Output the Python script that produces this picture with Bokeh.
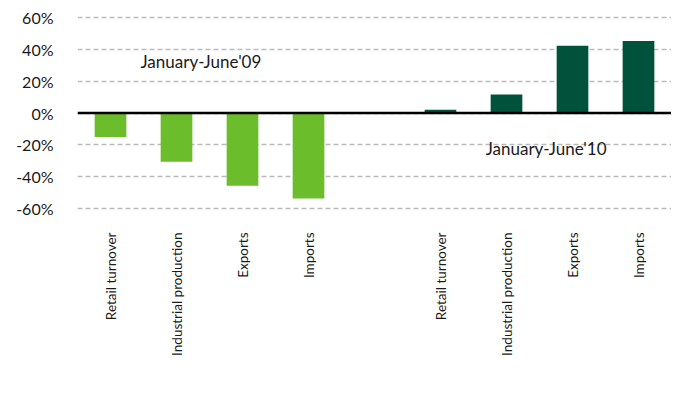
import math
from bokeh.plotting import figure
from bokeh.models import Range1d, FixedTicker, Label, Span, ColumnDataSource
from bokeh.embed import file_html
from bokeh.resources import INLINE

categories = ["Retail turnover", "Industrial production", "Exports", "Imports"]
values_09 = [-15.0, -30.5, -45.5, -53.5]
values_10 = [2.0, 11.5, 42.0, 45.0]
y_ticks = [-60, -40, -20, 0, 20, 40, 60]
period_labels = ["January-June'09", "January-June'10"]

FONT = "Lato"

x09 = list(range(len(categories)))
x10 = [i + len(categories) + 1 for i in range(len(categories))]

p = figure(frame_width=594, frame_height=195, output_backend="svg", toolbar_location=None,
           x_range=Range1d(-0.5, 8.5), y_range=Range1d(-61, 61),
           min_border_left=77, min_border_right=0, min_border_top=15,
           min_border_bottom=20)
p.outline_line_color = None
p.background_fill_color = "white"
p.border_fill_color = "white"

src09 = ColumnDataSource(dict(x=x09, top=values_09))
src10 = ColumnDataSource(dict(x=x10, top=values_10))
p.vbar(x="x", top="top", bottom=0, width=0.48, source=src09,
       fill_color="#6BBD2B", line_color=None)
p.vbar(x="x", top="top", bottom=0, width=0.48, source=src10,
       fill_color="#00533A", line_color=None)

p.add_layout(Span(location=0, dimension="width", line_color="black", line_width=2.5))

# y axis
p.yaxis.ticker = FixedTicker(ticks=y_ticks)
p.yaxis.major_label_overrides = {t: f"{t}%" for t in y_ticks}
p.yaxis.axis_line_color = None
p.yaxis.major_tick_line_color = None
p.yaxis.minor_tick_line_color = None
p.yaxis.major_label_text_font = FONT
p.yaxis.major_label_text_font_size = "16px"
p.yaxis.major_label_text_color = "#1a1a1a"
p.yaxis.major_label_standoff = 18

p.ygrid.grid_line_color = "#BBBBBB"
p.ygrid.grid_line_dash = "5 3"
p.ygrid.grid_line_width = 1.5
p.xgrid.grid_line_color = None

# x axis
p.xaxis.ticker = FixedTicker(ticks=x09 + x10)
p.xaxis.major_label_overrides = {x: c for x, c in zip(x09, categories)}
p.xaxis.major_label_overrides.update({x: c for x, c in zip(x10, categories)})
p.xaxis.major_label_orientation = math.pi / 2
p.xaxis.axis_line_color = None
p.xaxis.major_tick_line_color = None
p.xaxis.minor_tick_line_color = None
p.xaxis.major_label_text_font = FONT
p.xaxis.major_label_text_font_size = "13.5px"
p.xaxis.major_label_text_color = "#1a1a1a"
p.xaxis.major_label_standoff = 16

p.add_layout(Label(x=1.37, y=32, text=period_labels[0], text_align="center",
                   text_baseline="middle", text_font=FONT, text_font_size="17px",
                   text_color="#1a1a1a"))
p.add_layout(Label(x=6.6, y=-22, text=period_labels[1], text_align="center",
                   text_baseline="middle", text_font=FONT, text_font_size="17px",
                   text_color="#1a1a1a"))

open("out.html", "w").write(file_html(p, INLINE))
